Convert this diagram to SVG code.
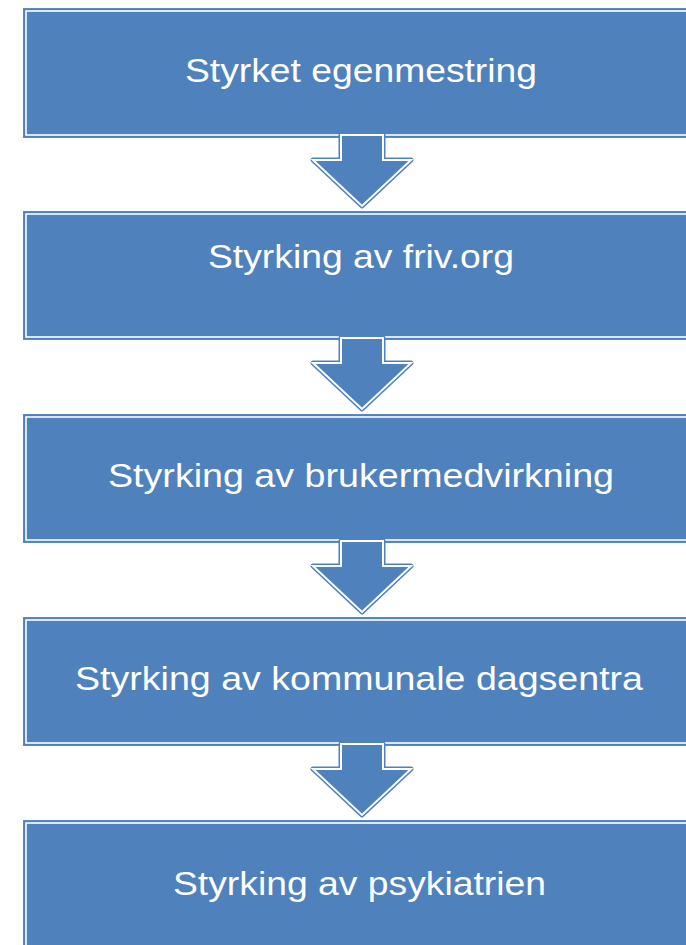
<svg xmlns="http://www.w3.org/2000/svg" width="686" height="945" viewBox="0 0 686 945">
  <defs>
    <style>
      .box { fill: #4F81BD; stroke: #5B8AC3; stroke-width: 1; }
      .inner { fill: none; stroke: #FFFFFF; stroke-width: 1.6; }
      .arrowOut { fill: #4F81BD; stroke: #4F81BD; stroke-width: 5; stroke-linejoin: round; }
      .arrowIn { fill: #4F81BD; stroke: #FFFFFF; stroke-width: 2; stroke-linejoin: miter; }
      .label { font-family: "Liberation Sans", Arial, sans-serif; font-size: 34px; fill: #FFFFFF; text-anchor: middle; }
    </style>
    <polygon id="arrowShape" points="341,0 383,0 383,25 411,25 362,71 313,25 341,25"/>
  </defs>
  <rect width="686" height="945" fill="#FFFFFF"/>

  <g id="node1">
    <rect class="box" x="23.5" y="8.5" width="680" height="129"/>
    <rect class="inner" x="26" y="11" width="680" height="124"/>
    <text class="label" x="361" y="82" textLength="352" lengthAdjust="spacingAndGlyphs">Styrket egenmestring</text>
  </g>
  <g id="node2">
    <rect class="box" x="23.5" y="211.5" width="680" height="128"/>
    <rect class="inner" x="26" y="214" width="680" height="123"/>
    <text class="label" x="361" y="268" textLength="306" lengthAdjust="spacingAndGlyphs">Styrking av friv.org</text>
  </g>
  <g id="node3">
    <rect class="box" x="23.5" y="414.5" width="680" height="128"/>
    <rect class="inner" x="26" y="417" width="680" height="123"/>
    <text class="label" x="361" y="487" textLength="506" lengthAdjust="spacingAndGlyphs">Styrking av brukermedvirkning</text>
  </g>
  <g id="node4">
    <rect class="box" x="23.5" y="617.5" width="680" height="128"/>
    <rect class="inner" x="26" y="620" width="680" height="123"/>
    <text class="label" x="359" y="690" textLength="568" lengthAdjust="spacingAndGlyphs">Styrking av kommunale dagsentra</text>
  </g>
  <g id="node5">
    <rect class="box" x="23.5" y="820.5" width="680" height="140"/>
    <rect class="inner" x="26" y="823" width="680" height="140"/>
    <text class="label" x="359.5" y="895" textLength="373" lengthAdjust="spacingAndGlyphs">Styrking av psykiatrien</text>
  </g>

  <g id="connectors">
    <g transform="translate(0,135)">
      <use href="#arrowShape" class="arrowOut"/>
      <use href="#arrowShape" class="arrowIn"/>
    </g>
    <g transform="translate(0,338)">
      <use href="#arrowShape" class="arrowOut"/>
      <use href="#arrowShape" class="arrowIn"/>
    </g>
    <g transform="translate(0,541)">
      <use href="#arrowShape" class="arrowOut"/>
      <use href="#arrowShape" class="arrowIn"/>
    </g>
    <g transform="translate(0,744)">
      <use href="#arrowShape" class="arrowOut"/>
      <use href="#arrowShape" class="arrowIn"/>
    </g>
  </g>
</svg>
